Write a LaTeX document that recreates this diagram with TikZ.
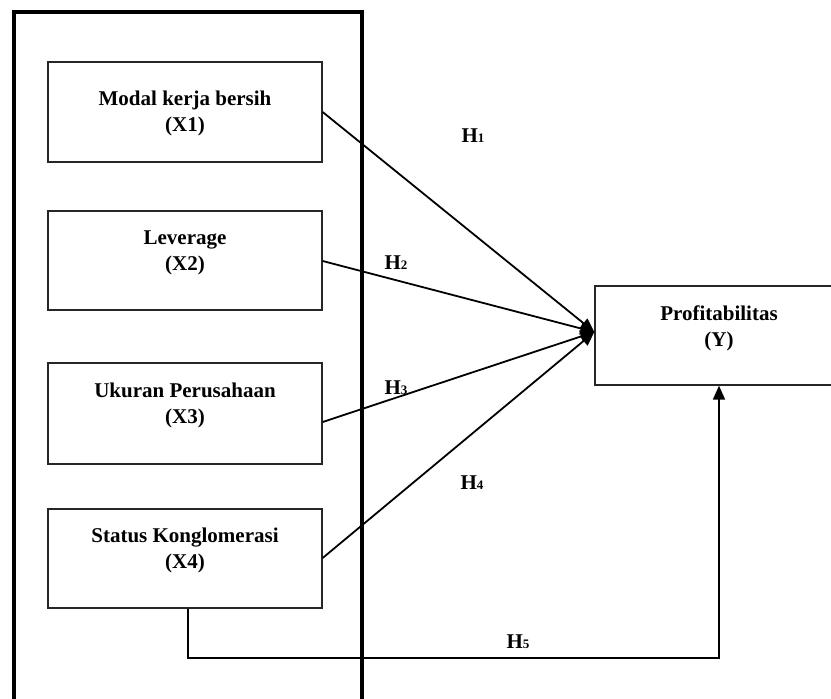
\documentclass[tikz,border=0pt]{standalone}
\usepackage{fontspec}
\setmainfont{Liberation Serif}
\usetikzlibrary{arrows.meta}
\begin{document}
\begin{tikzpicture}[x=1pt,y=-1pt,
  varbox/.style={draw=black!85,line width=1.3pt,rectangle,inner sep=0pt},
  lbl/.style={font=\bfseries\fontsize{21}{26}\selectfont,align=center,inner sep=0pt},
  hyp/.style={font=\bfseries\fontsize{21}{21}\selectfont,inner sep=0pt},
  conn/.style={line width=1.8pt,-{Triangle[length=14pt,width=12pt]}},
  frame/.style={line width=3.5pt,line join=miter}]
\useasboundingbox (0,0) rectangle (831,699);
% outer frame (open at the bottom, runs off the page)
\coordinate (fbl) at (14,720);
\coordinate (ftl) at (14,12);
\coordinate (ftr) at (362,12);
\coordinate (fbr) at (362,720);
\draw[frame] (fbl) -- (ftl) -- (ftr) -- (fbr);
% variable boxes
\node[varbox,minimum width=274pt,minimum height=100pt] (x1) at (185,112) {};
\node[varbox,minimum width=274pt,minimum height=99pt] (x2) at (185,260.5) {};
\node[varbox,minimum width=274pt,minimum height=101pt] (x3) at (185,413.5) {};
\node[varbox,minimum width=274pt,minimum height=99pt] (x4) at (185,558.5) {};
\node[varbox,minimum width=248pt,minimum height=99pt] (y) at (719,335.5) {};
% texts
\node[lbl] (x1t) at (185,113) {Modal kerja bersih\\(X1)};
\node[lbl] (x2t) at (185,252.5) {Leverage\\(X2)};
\node[lbl] (x3t) at (185,405.5) {Ukuran Perusahaan\\(X3)};
\node[lbl] (x4t) at (185,550.5) {Status Konglomerasi\\(X4)};
\node[lbl] (yt) at (719,328) {Profitabilitas\\(Y)};
% hypothesis labels
\newcommand{\hlab}[1]{H{\fontsize{13}{13}\selectfont #1}}
\node[hyp] (h1) at (473,136) {\hlab{1}};
\node[hyp] (h2) at (396,263) {\hlab{2}};
\node[hyp] (h3) at (396,388) {\hlab{3}};
\node[hyp] (h4) at (472,483) {\hlab{4}};
\node[hyp] (h5) at (518,642) {\hlab{5}};
% connectors
\coordinate (ytip) at ([yshift=3.5pt]y.west);
\draw[conn] ([yshift=0pt]x1.east) -- (ytip);
\draw[conn] ([yshift=-0.5pt]x2.east) -- (ytip);
\draw[conn] ([yshift=-8.5pt]x3.east) -- (ytip);
\draw[conn] ([yshift=0.5pt]x4.east) -- (ytip);
\coordinate (b1) at ([xshift=3pt]x4.south);
\coordinate (b2) at ([xshift=3pt]x4.south |- 0,658);
\draw[conn,line join=miter] (b1) -- (b2) -| (y.south);
\end{tikzpicture}
\end{document}
